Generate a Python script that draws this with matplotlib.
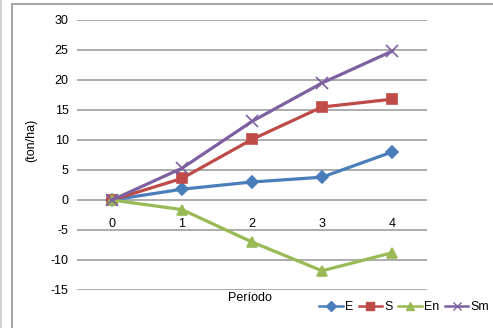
import numpy as np
import matplotlib.pyplot as plt
from matplotlib.lines import Line2D

plt.rcParams['font.family'] = ['Liberation Sans', 'DejaVu Sans']
plt.rcParams['axes.unicode_minus'] = False

periodos = [0, 1, 2, 3, 4]
e = [0, 1.8, 3.0, 3.8, 8.0]
s = [0, 3.6, 10.1, 15.5, 16.8]
en = [0, -1.6, -7.0, -11.8, -8.8]
sm = [0, 5.3, 13.1, 19.5, 24.8]

series = [
    ('E', e, '#4A7EBB', 'D', 6),
    ('S', s, '#BE4B48', 's', 7),
    ('En', en, '#98B954', '^', 7),
    ('Sm', sm, '#7D60A0', 'x', 8),
]

fig = plt.figure(figsize=(4.93, 3.28), dpi=100)
ax = fig.add_axes([77/493, 1-290/328, 350/493, 270/328])

for lab, vals, col, mk, ms in series:
    ax.plot(periodos, vals, color=col, lw=2.3, marker=mk, ms=ms, mew=1.2,
            label=lab, zorder=3)

ax.set_xlim(-0.5, 4.5)
ax.set_ylim(-15, 30)
ax.set_yticks(np.arange(-15, 31, 5))
ax.yaxis.grid(True, color='#A6A6A6', lw=1.3)
ax.set_axisbelow(True)
for sp in ax.spines.values():
    sp.set_visible(False)
ax.spines['bottom'].set_position(('data', 0))
ax.set_xticks(periodos)
ax.tick_params(axis='both', length=0, labelsize=9)
ax.tick_params(axis='x', pad=13)
ax.tick_params(axis='y', pad=6)

fig.text(250/493, 1-298/328, 'Período', ha='center', va='center', fontsize=9)
fig.text(31/493, 1-140/328, '(ton/ha)', ha='center', va='center', rotation=90,
         fontsize=9)

handles = [Line2D([], [], color=c, lw=1.8, marker=m, ms=ms*0.8, mew=1.0)
           for _, _, c, m, ms in series]
fig.legend(handles, [t[0] for t in series], loc='center',
           bbox_to_anchor=(404/493, 1-307/328), ncol=4, frameon=False,
           fontsize=9, handlelength=1.9, handletextpad=0.15,
           columnspacing=0.45, borderpad=0.1)

# chart frame
fig.add_artist(Line2D([12/493, 12/493], [0, 1-4/328], color='#A6A6A6', lw=1.5))
fig.add_artist(Line2D([12/493, 1], [1-4/328, 1-4/328], color='#A6A6A6', lw=1.5))
fig.add_artist(Line2D([1/493, 1/493], [0, 1], color='#C8C8C8', lw=1.2))

plt.savefig('out.png', dpi=100)
